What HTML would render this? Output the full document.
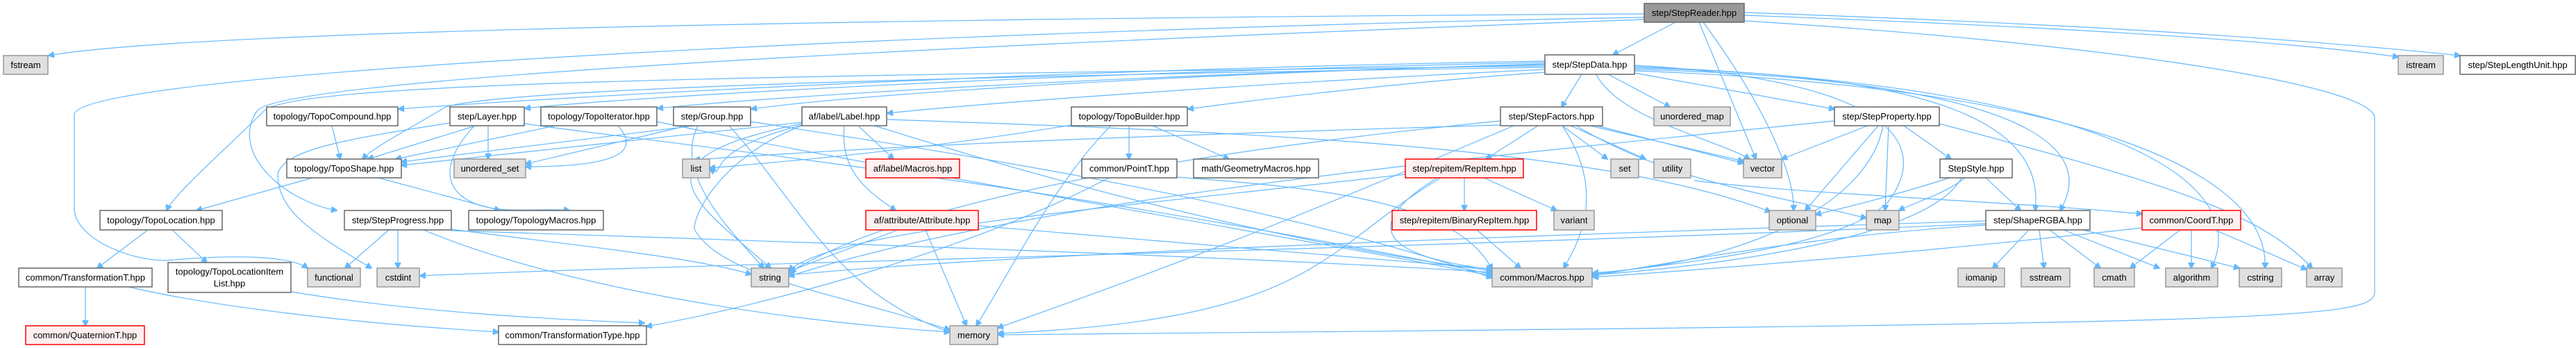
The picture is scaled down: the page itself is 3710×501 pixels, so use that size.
<!DOCTYPE html>
<html><head><meta charset="utf-8"><style>
html,body{margin:0;padding:0;background:#fff;}
svg{display:block;}
.n rect{fill:#fff;stroke:#666;stroke-width:1.5;}
.g rect{fill:#e0e0e0;stroke:#999;stroke-width:1.5;}
.r rect{fill:#fff0f0;stroke:#f00;stroke-width:1.5;}
.s rect{fill:#999;stroke:#666;stroke-width:1.5;}
text{font-family:"Liberation Sans",sans-serif;font-size:13px;fill:#000;text-anchor:middle;dominant-baseline:central;}
path{fill:none;stroke:#63b8ff;stroke-width:1.2;}
</style></head><body>
<svg width="3710" height="501" viewBox="0 0 3710 501" xmlns="http://www.w3.org/2000/svg">
<defs><marker id="a" viewBox="0 0 10 10" refX="9" refY="5" markerWidth="9" markerHeight="9" markerUnits="userSpaceOnUse" orient="auto"><path d="M0,0 L10,5 L0,10 z" style="fill:#63b8ff;stroke:#63b8ff"/></marker></defs>
<g marker-end="url(#a)">
<!-- StepReader -->
<path d="M2413,32 L2323,79"/>
<path d="M2368,20 C1500,25 300,40 70,80"/>
<path d="M2512,22 C3000,40 3300,60 3454,82"/>
<path d="M2512,18 C3000,35 3300,55 3543,80"/>
<path d="M2447,32 L2529,229"/>
<path d="M2453,32 C2540,150 2585,250 2583,303"/>
<path d="M2512,30 C3000,60 3420,120 3420,170 L3420,420 C3420,460 3300,465 1438,482"/>
<path d="M2368,25 C1500,40 107,100 107,165 L107,300 C107,340 180,375 240,375 C350,365 420,370 443,386"/>
<path d="M2368,28 C1500,60 400,110 370,160 C330,220 410,290 485,303"/>
<!-- StepData -->
<path d="M2225,95 C1000,110 420,120 380,160 C330,210 250,280 240,303"/>
<path d="M2225,88 C1500,100 800,140 574,157"/>
<path d="M2225,90 C1500,105 900,140 756,156"/>
<path d="M2225,93 C1600,108 1100,140 947,156"/>
<path d="M2225,92 C1600,110 1200,140 1082,157"/>
<path d="M2225,100 C1800,120 1400,150 1278,163"/>
<path d="M2225,104 C2000,120 1800,145 1711,157"/>
<path d="M2225,97 C1300,110 700,130 640,155 C600,180 540,210 522,229"/>
<path d="M2278,107 L2249,154"/>
<path d="M2316,107 L2405,154"/>
<path d="M2299,107 C2330,170 2470,200 2520,229"/>
<path d="M2354,105 L2642,157"/>
<path d="M2354,98 C2700,105 2950,150 2931,303"/>
<path d="M2354,100 C2800,110 3040,180 2967,303"/>
<path d="M2354,96 C3000,120 3250,250 3185,386"/>
<path d="M2354,102 C3000,125 3270,250 3262,386"/>
<path d="M2354,94 C2650,110 2800,180 2720,290 C2650,360 2400,380 2294,395"/>
<!-- Layer / TopoCompound / TopoIterator / Group / Label -->
<path d="M478,181 L490,229"/>
<path d="M685,181 L530,229"/>
<path d="M703,181 L703,229"/>
<path d="M648,177 C500,200 410,215 400,250 C400,300 440,330 535,386"/>
<path d="M683,181 C620,250 650,290 710,300 C740,305 800,300 820,303"/>
<path d="M755,178 C900,200 1500,260 2149,395"/>
<path d="M800,181 L570,229"/>
<path d="M890,181 C920,215 900,240 757,240"/>
<path d="M946,175 C1200,230 1800,330 2149,397"/>
<path d="M1000,181 L578,233"/>
<path d="M1005,181 C970,250 1050,330 1100,386"/>
<path d="M1050,181 C1150,290 1200,420 1368,478"/>
<path d="M1081,175 C1300,210 1800,280 2149,400"/>
<path d="M990,181 L757,236"/>
<path d="M1155,176 L578,238"/>
<path d="M1155,180 C1000,220 1050,260 1022,243"/>
<path d="M1236,181 L1287,229"/>
<path d="M1216,181 C1210,240 1240,270 1290,303"/>
<path d="M1155,181 C1050,220 1000,300 1000,330 C1040,400 1200,420 1368,475"/>
<path d="M1155,178 C900,230 1000,290 1110,386"/>
<path d="M1260,181 C1700,320 2000,370 2149,390"/>
<path d="M1277,172 C1800,190 2300,210 2550,305"/>
<!-- TopoBuilder -->
<path d="M1543,180 C1300,220 1100,235 1022,242"/>
<path d="M1626,181 L1626,229"/>
<path d="M1660,181 L1770,229"/>
<path d="M1600,181 C1520,260 1450,400 1406,469"/>
<!-- TopoShape / TopoLocation -->
<path d="M450,256 L283,303"/>
<path d="M545,256 L720,303"/>
<path d="M213,331 L140,386"/>
<path d="M248,331 L298,378"/>
<path d="M123,413 L123,469"/>
<path d="M185,413 C300,440 500,465 718,478"/>
<path d="M419,420 C600,450 800,460 928,465"/>
<!-- StepProgress -->
<path d="M560,331 L497,386"/>
<path d="M573,331 L573,386"/>
<path d="M650,330 C800,350 1000,370 1082,395"/>
<path d="M610,331 C800,410 1100,460 1368,478"/>
<path d="M650,332 C1200,350 1800,370 2149,392"/>
<!-- PointT / GeometryMacros / Attribute -->
<path d="M1597,256 C1400,360 1100,440 931,470"/>
<path d="M1695,255 C1900,270 2100,290 2149,388"/>
<path d="M1293,331 L1138,390"/>
<path d="M1333,331 L1392,469"/>
<path d="M1409,325 C1700,350 2000,375 2149,387"/>
<!-- StepFactors -->
<path d="M2215,181 L2140,229"/>
<path d="M2250,181 L2315,229"/>
<path d="M2262,181 L2370,229"/>
<path d="M2290,181 L2511,232"/>
<path d="M2300,181 L2511,235"/>
<path d="M2250,181 C2310,270 2280,340 2252,386"/>
<path d="M2270,181 C2400,260 2550,280 2688,314"/>
<path d="M2180,181 C1900,300 1700,380 1437,472"/>
<path d="M2161,174 C1700,220 1300,290 1136,393"/>
<path d="M2161,180 C1500,200 1300,210 1000,230"/>
<!-- RepItem -->
<path d="M2109,256 L2109,303"/>
<path d="M2137,256 L2242,303"/>
<path d="M2070,256 C1950,330 2000,370 2149,388"/>
<path d="M2024,251 C1600,300 1200,330 1136,390"/>
<path d="M2075,256 C1900,360 1900,460 1437,480"/>
<path d="M2127,331 L2190,386"/>
<!-- StepProperty / StepStyle -->
<path d="M2690,181 L2566,229"/>
<path d="M2705,181 L2600,303"/>
<path d="M2720,181 L2715,303"/>
<path d="M2742,181 L2810,229"/>
<path d="M2712,181 C2690,300 2500,380 2294,393"/>
<path d="M2642,174 C2200,220 1500,280 1136,398"/>
<path d="M2793,178 C3100,260 3250,300 3330,386"/>
<path d="M2808,256 C2700,290 2650,300 2615,309"/>
<path d="M2830,256 C2800,280 2760,290 2735,303"/>
<path d="M2860,256 L2910,303"/>
<path d="M2825,256 C2780,340 2500,380 2294,396"/>
<!-- ShapeRGBA -->
<path d="M2922,331 L2870,386"/>
<path d="M2937,331 L2944,386"/>
<path d="M2952,331 L3025,386"/>
<path d="M2972,331 L3110,386"/>
<path d="M3000,331 L3225,386"/>
<path d="M2860,324 C2600,340 2400,380 2294,397"/>
<path d="M2860,318 C2000,345 1400,370 1136,396"/>
<path d="M2860,322 C2000,360 1000,380 605,397"/>
<path d="M2440,260 C2600,280 2900,290 3085,308"/>
<!-- CoordT -->
<path d="M3140,331 L3068,386"/>
<path d="M3156,331 L3156,386"/>
<path d="M3190,331 L3322,388"/>
<path d="M3085,328 C2800,360 2500,385 2294,399"/>
</g>
<!-- nodes -->
<g class="s"><rect x="2368" y="5" width="144" height="27"/><text x="2440" y="18.5">step/StepReader.hpp</text></g>
<g class="n"><rect x="2225" y="79" width="129" height="28"/><text x="2289.5" y="93">step/StepData.hpp</text></g>
<g class="g"><rect x="5" y="80" width="64" height="27"/><text x="37" y="93.5">fstream</text></g>
<g class="g"><rect x="3454" y="80" width="65" height="27"/><text x="3486.5" y="93.5">istream</text></g>
<g class="n"><rect x="3543" y="80" width="166" height="27"/><text x="3626" y="93.5">step/StepLengthUnit.hpp</text></g>

<g class="n"><rect x="384" y="154" width="189" height="27"/><text x="478.5" y="167.5">topology/TopoCompound.hpp</text></g>
<g class="n"><rect x="648" y="154" width="107" height="27"/><text x="701.5" y="167.5">step/Layer.hpp</text></g>
<g class="n"><rect x="779" y="154" width="167" height="27"/><text x="862.5" y="167.5">topology/TopoIterator.hpp</text></g>
<g class="n"><rect x="970" y="154" width="111" height="27"/><text x="1025.5" y="167.5">step/Group.hpp</text></g>
<g class="n"><rect x="1155" y="154" width="122" height="27"/><text x="1216" y="167.5">af/label/Label.hpp</text></g>
<g class="n"><rect x="1543" y="154" width="167" height="27"/><text x="1626.5" y="167.5">topology/TopoBuilder.hpp</text></g>
<g class="n"><rect x="2161" y="154" width="147" height="27"/><text x="2234.5" y="167.5">step/StepFactors.hpp</text></g>
<g class="g"><rect x="2382" y="154" width="110" height="27"/><text x="2437" y="167.5">unordered_map</text></g>
<g class="n"><rect x="2642" y="154" width="151" height="27"/><text x="2717.5" y="167.5">step/StepProperty.hpp</text></g>

<g class="n"><rect x="413" y="229" width="165" height="27"/><text x="495.5" y="242.5">topology/TopoShape.hpp</text></g>
<g class="g"><rect x="654" y="229" width="103" height="27"/><text x="705.5" y="242.5">unordered_set</text></g>
<g class="g"><rect x="983" y="229" width="39" height="27"/><text x="1002.5" y="242.5">list</text></g>
<g class="r"><rect x="1247" y="229" width="135" height="27"/><text x="1314.5" y="242.5">af/label/Macros.hpp</text></g>
<g class="n"><rect x="1558" y="229" width="137" height="27"/><text x="1626.5" y="242.5">common/PointT.hpp</text></g>
<g class="n"><rect x="1719" y="229" width="180" height="27"/><text x="1809" y="242.5">math/GeometryMacros.hpp</text></g>
<g class="r"><rect x="2024" y="229" width="170" height="27"/><text x="2109" y="242.5">step/repitem/RepItem.hpp</text></g>
<g class="g"><rect x="2320" y="229" width="40" height="27"/><text x="2340" y="242.5">set</text></g>
<g class="g"><rect x="2382" y="229" width="53" height="27"/><text x="2408.5" y="242.5">utility</text></g>
<g class="g"><rect x="2511" y="229" width="55" height="27"/><text x="2538.5" y="242.5">vector</text></g>
<g class="n"><rect x="2794" y="229" width="104" height="27"/><text x="2846" y="242.5">StepStyle.hpp</text></g>

<g class="n"><rect x="144" y="303" width="176" height="28"/><text x="232" y="317">topology/TopoLocation.hpp</text></g>
<g class="n"><rect x="496" y="303" width="154" height="28"/><text x="573" y="317">step/StepProgress.hpp</text></g>
<g class="n"><rect x="675" y="303" width="194" height="28"/><text x="772" y="317">topology/TopologyMacros.hpp</text></g>
<g class="r"><rect x="1247" y="303" width="162" height="28"/><text x="1328" y="317">af/attribute/Attribute.hpp</text></g>
<g class="r"><rect x="2005" y="303" width="208" height="28"/><text x="2109" y="317">step/repitem/BinaryRepItem.hpp</text></g>
<g class="g"><rect x="2238" y="303" width="58" height="28"/><text x="2267" y="317">variant</text></g>
<g class="g"><rect x="2548" y="303" width="67" height="28"/><text x="2581.5" y="317">optional</text></g>
<g class="g"><rect x="2688" y="303" width="47" height="28"/><text x="2711.5" y="317">map</text></g>
<g class="n"><rect x="2860" y="303" width="150" height="28"/><text x="2935" y="317">step/ShapeRGBA.hpp</text></g>
<g class="r"><rect x="3085" y="303" width="142" height="28"/><text x="3156" y="317">common/CoordT.hpp</text></g>

<g class="n"><rect x="27" y="386" width="192" height="27"/><text x="123" y="399.5">common/TransformationT.hpp</text></g>
<g class="n"><rect x="242" y="378" width="177" height="43"/><text x="330.5" y="391">topology/TopoLocationItem</text><text x="330.5" y="408">List.hpp</text></g>
<g class="g"><rect x="443" y="386" width="76" height="27"/><text x="481" y="399.5">functional</text></g>
<g class="g"><rect x="543" y="386" width="61" height="27"/><text x="573.5" y="399.5">cstdint</text></g>
<g class="g"><rect x="1082" y="386" width="54" height="27"/><text x="1109" y="399.5">string</text></g>
<g class="g"><rect x="2149" y="386" width="144" height="27"/><text x="2221" y="399.5">common/Macros.hpp</text></g>
<g class="g"><rect x="2820" y="386" width="67" height="27"/><text x="2853.5" y="399.5">iomanip</text></g>
<g class="g"><rect x="2911" y="386" width="70" height="27"/><text x="2946" y="399.5">sstream</text></g>
<g class="g"><rect x="3016" y="386" width="58" height="27"/><text x="3045" y="399.5">cmath</text></g>
<g class="g"><rect x="3119" y="386" width="75" height="27"/><text x="3156.5" y="399.5">algorithm</text></g>
<g class="g"><rect x="3225" y="386" width="61" height="27"/><text x="3255.5" y="399.5">cstring</text></g>
<g class="g"><rect x="3322" y="386" width="51" height="27"/><text x="3347.5" y="399.5">array</text></g>

<g class="r"><rect x="37" y="469" width="171" height="27"/><text x="122.5" y="482.5">common/QuaternionT.hpp</text></g>
<g class="n"><rect x="718" y="469" width="213" height="27"/><text x="824.5" y="482.5">common/TransformationType.hpp</text></g>
<g class="g"><rect x="1368" y="469" width="69" height="27"/><text x="1402.5" y="482.5">memory</text></g>
</svg>
</body></html>
